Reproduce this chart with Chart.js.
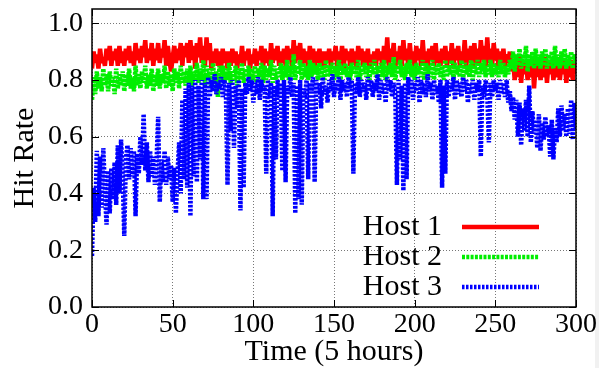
<!DOCTYPE html>
<html>
<head>
<meta charset="utf-8">
<script src="https://cdn.jsdelivr.net/npm/chart.js@4/dist/chart.umd.min.js"></script>
<style>
  html, body { margin: 0; padding: 0; background: #fff; }
  canvas { display: block; }
</style>
</head>
<body>
<canvas id="chart" width="599" height="368"></canvas>
<script>
// Hit rate per host, one sample per 5-hour interval (index 0..300)
const host1 = [
  0.84,0.90,0.86,0.89,0.84,0.91,0.86,0.88,0.85,0.91,0.87,0.92,0.85,0.90,0.87,0.91,0.85,0.92,0.86,0.90,
  0.85,0.91,0.87,0.92,0.86,0.90,0.85,0.93,0.87,0.91,0.86,0.92,0.88,0.94,0.86,0.91,0.87,0.93,0.85,0.91,
  0.87,0.93,0.86,0.91,0.88,0.94,0.85,0.92,0.87,0.83,0.88,0.92,0.86,0.91,0.87,0.93,0.85,0.92,0.88,0.93,
  0.86,0.94,0.87,0.92,0.84,0.93,0.88,0.95,0.86,0.92,0.85,0.95,0.87,0.93,0.84,0.90,0.86,0.91,0.85,0.90,
  0.84,0.91,0.86,0.90,0.84,0.90,0.85,0.91,0.86,0.90,0.84,0.89,0.86,0.92,0.85,0.90,0.87,0.91,0.84,0.89,
  0.86,0.91,0.85,0.90,0.87,0.92,0.84,0.91,0.86,0.90,0.85,0.93,0.86,0.91,0.87,0.92,0.85,0.90,0.86,0.91,
  0.85,0.92,0.87,0.91,0.84,0.94,0.86,0.92,0.87,0.93,0.85,0.91,0.86,0.90,0.84,0.92,0.87,0.91,0.85,0.90,
  0.86,0.91,0.85,0.90,0.84,0.90,0.86,0.91,0.85,0.90,0.87,0.92,0.85,0.90,0.86,0.92,0.84,0.91,0.87,0.90,
  0.85,0.91,0.86,0.90,0.84,0.92,0.87,0.91,0.85,0.90,0.86,0.91,0.84,0.89,0.86,0.90,0.85,0.91,0.87,0.90,
  0.84,0.92,0.86,0.95,0.85,0.91,0.87,0.93,0.84,0.90,0.86,0.92,0.85,0.94,0.87,0.91,0.85,0.93,0.86,0.90,
  0.84,0.92,0.87,0.91,0.85,0.94,0.86,0.90,0.84,0.91,0.87,0.92,0.85,0.93,0.86,0.90,0.85,0.91,0.87,0.92,
  0.85,0.90,0.86,0.93,0.84,0.91,0.87,0.92,0.85,0.90,0.86,0.94,0.85,0.91,0.87,0.92,0.84,0.93,0.86,0.91,
  0.85,0.94,0.87,0.92,0.85,0.95,0.86,0.91,0.85,0.93,0.87,0.91,0.84,0.90,0.86,0.91,0.85,0.89,0.86,0.90,
  0.83,0.87,0.80,0.86,0.81,0.88,0.79,0.86,0.82,0.87,0.80,0.85,0.81,0.88,0.77,0.86,0.81,0.87,0.80,0.85,
  0.81,0.88,0.79,0.86,0.82,0.87,0.80,0.85,0.81,0.88,0.80,0.86,0.82,0.87,0.79,0.85,0.81,0.87,0.80,0.86,
  0.82
];

const host2 = [
  0.73,0.81,0.75,0.83,0.77,0.81,0.76,0.84,0.78,0.82,0.76,0.83,0.78,0.81,0.75,0.84,0.77,0.82,0.78,0.83,
  0.76,0.82,0.78,0.84,0.77,0.81,0.76,0.85,0.78,0.82,0.77,0.83,0.79,0.85,0.77,0.82,0.78,0.84,0.76,0.82,
  0.78,0.84,0.77,0.82,0.79,0.85,0.77,0.83,0.78,0.82,0.76,0.84,0.79,0.83,0.77,0.85,0.79,0.83,0.78,0.84,
  0.79,0.85,0.78,0.83,0.80,0.86,0.79,0.84,0.80,0.87,0.78,0.85,0.80,0.84,0.77,0.86,0.79,0.83,0.74,0.85,
  0.80,0.85,0.79,0.84,0.80,0.86,0.79,0.83,0.80,0.85,0.78,0.84,0.80,0.86,0.79,0.84,0.81,0.85,0.79,0.84,
  0.80,0.85,0.79,0.84,0.81,0.86,0.79,0.85,0.80,0.84,0.81,0.87,0.79,0.85,0.80,0.84,0.81,0.86,0.80,0.85,
  0.81,0.87,0.80,0.85,0.81,0.89,0.80,0.85,0.82,0.87,0.80,0.86,0.81,0.85,0.80,0.87,0.81,0.86,0.82,0.85,
  0.80,0.86,0.81,0.85,0.80,0.87,0.81,0.85,0.82,0.86,0.80,0.85,0.81,0.87,0.80,0.85,0.82,0.86,0.81,0.85,
  0.80,0.86,0.82,0.85,0.81,0.87,0.80,0.85,0.82,0.86,0.81,0.85,0.80,0.86,0.82,0.87,0.81,0.85,0.80,0.86,
  0.81,0.87,0.80,0.85,0.82,0.86,0.81,0.88,0.80,0.85,0.82,0.87,0.81,0.85,0.80,0.86,0.82,0.87,0.81,0.85,
  0.80,0.86,0.82,0.85,0.81,0.87,0.80,0.86,0.82,0.85,0.81,0.87,0.80,0.85,0.82,0.86,0.81,0.85,0.80,0.87,
  0.81,0.85,0.82,0.87,0.80,0.86,0.82,0.85,0.81,0.87,0.80,0.86,0.82,0.85,0.81,0.87,0.80,0.86,0.82,0.87,
  0.81,0.86,0.82,0.87,0.81,0.85,0.82,0.87,0.81,0.86,0.82,0.85,0.81,0.87,0.82,0.86,0.81,0.85,0.82,0.87,
  0.84,0.90,0.83,0.89,0.85,0.91,0.84,0.89,0.85,0.92,0.83,0.89,0.85,0.90,0.84,0.91,0.85,0.89,0.84,0.90,
  0.85,0.91,0.84,0.89,0.85,0.90,0.84,0.92,0.85,0.89,0.84,0.90,0.85,0.91,0.84,0.89,0.85,0.90,0.84,0.89,
  0.86
];

const host3 = [
  0.18,0.42,0.30,0.55,0.32,0.53,0.35,0.56,0.41,0.29,0.48,0.33,0.49,0.38,0.51,0.36,0.57,0.40,0.59,0.47,
  0.25,0.52,0.57,0.45,0.56,0.46,0.55,0.32,0.54,0.47,0.60,0.50,0.68,0.48,0.58,0.44,0.55,0.46,0.53,0.43,
  0.51,0.67,0.37,0.52,0.44,0.55,0.43,0.53,0.45,0.50,0.37,0.49,0.33,0.47,0.58,0.40,0.73,0.45,0.77,0.42,
  0.79,0.32,0.78,0.46,0.80,0.44,0.78,0.52,0.80,0.38,0.79,0.38,0.81,0.74,0.80,0.76,0.82,0.75,0.79,0.77,
  0.81,0.74,0.80,0.76,0.43,0.79,0.62,0.80,0.56,0.78,0.70,0.80,0.34,0.77,0.42,0.79,0.75,0.81,0.76,0.80,
  0.72,0.79,0.75,0.81,0.73,0.80,0.76,0.78,0.47,0.80,0.74,0.79,0.32,0.78,0.52,0.80,0.74,0.79,0.48,0.80,
  0.44,0.78,0.75,0.81,0.74,0.79,0.33,0.78,0.38,0.80,0.36,0.77,0.74,0.80,0.45,0.79,0.76,0.81,0.44,0.80,
  0.75,0.79,0.70,0.81,0.75,0.78,0.72,0.80,0.76,0.82,0.74,0.79,0.76,0.81,0.73,0.80,0.76,0.79,0.74,0.81,
  0.77,0.80,0.47,0.79,0.75,0.81,0.74,0.80,0.76,0.79,0.73,0.81,0.76,0.80,0.74,0.79,0.76,0.82,0.73,0.80,
  0.75,0.79,0.72,0.81,0.76,0.80,0.74,0.79,0.75,0.43,0.80,0.52,0.78,0.41,0.79,0.45,0.81,0.75,0.80,0.73,
  0.79,0.76,0.81,0.72,0.80,0.75,0.79,0.74,0.82,0.76,0.79,0.73,0.80,0.75,0.78,0.72,0.80,0.42,0.78,0.47,
  0.80,0.74,0.79,0.76,0.81,0.73,0.80,0.75,0.79,0.74,0.81,0.76,0.80,0.72,0.79,0.75,0.80,0.73,0.79,0.76,
  0.80,0.53,0.78,0.74,0.80,0.75,0.58,0.79,0.74,0.80,0.76,0.79,0.73,0.80,0.75,0.79,0.74,0.80,0.72,0.76,
  0.69,0.74,0.66,0.73,0.60,0.72,0.57,0.70,0.62,0.73,0.60,0.78,0.58,0.69,0.61,0.66,0.56,0.68,0.55,0.65,
  0.59,0.67,0.60,0.64,0.53,0.66,0.52,0.63,0.58,0.70,0.60,0.71,0.62,0.68,0.60,0.70,0.61,0.73,0.59,0.72,
  0.62
];

const seriesNames = ['Host 1', 'Host 2', 'Host 3'];
const xTicks = [0, 50, 100, 150, 200, 250, 300];
const yTicks = [0.0, 0.2, 0.4, 0.6, 0.8, 1.0];

const SERIF = "'Liberation Serif', 'DejaVu Serif', serif";

const toPoints = vals => vals.map((v, i) => ({ x: i, y: v }));

// Frame with inward ticks on all four sides, plus the in-plot key
const framePlugin = {
  id: 'framePlugin',
  beforeDraw(chart) {
    const ctx = chart.ctx;
    ctx.save();
    ctx.fillStyle = '#ffffff';
    ctx.fillRect(0, 0, chart.width, chart.height);
    ctx.fillStyle = '#f1f1f1';
    ctx.fillRect(595, 0, 4, chart.height);
    ctx.restore();
  },
  afterDatasetsDraw(chart) {
    const { ctx, chartArea: a, scales: { x, y } } = chart;
    ctx.save();
    ctx.strokeStyle = '#000';
    ctx.lineWidth = 1;
    ctx.setLineDash([]);
    const seg = (x1, y1, x2, y2) => { ctx.beginPath(); ctx.moveTo(x1, y1); ctx.lineTo(x2, y2); ctx.stroke(); };
    const tl = 7;
    xTicks.forEach(v => {
      const px = Math.round(x.getPixelForValue(v)) + 0.5;
      seg(px, a.bottom, px, a.bottom - tl);
      seg(px, a.top, px, a.top + tl);
    });
    yTicks.forEach(v => {
      const py = Math.round(y.getPixelForValue(v)) + 0.5;
      seg(a.left, py, a.left + tl, py);
      seg(a.right, py, a.right - tl, py);
    });
    ctx.lineWidth = 1.5;
    ctx.strokeRect(a.left, a.top, a.right - a.left, a.bottom - a.top);

    // key
    ctx.font = '30px ' + SERIF;
    ctx.fillStyle = '#000';
    ctx.textAlign = 'right';
    ctx.textBaseline = 'middle';
    chart.data.datasets.forEach((ds, i) => {
      const cy = 227 + 30 * i;
      ctx.fillText(ds.label, 442, cy);
      ctx.save();
      ctx.strokeStyle = ds.borderColor;
      ctx.lineWidth = ds.borderWidth;
      ctx.lineCap = 'butt';
      ctx.setLineDash(ds.borderDash || []);
      seg(462, cy, 539, cy);
      ctx.restore();
    });
    ctx.restore();
  }
};

new Chart(document.getElementById('chart'), {
  type: 'line',
  data: {
    datasets: [
      { label: seriesNames[0], data: toPoints(host1), borderColor: '#ff0000', borderWidth: 4.5, borderDash: [], order: 3 },
      { label: seriesNames[1], data: toPoints(host2), borderColor: '#00ee00', borderWidth: 4.5, borderDash: [3, 1.3], order: 2 },
      { label: seriesNames[2], data: toPoints(host3), borderColor: '#0000ff', borderWidth: 4.5, borderDash: [2.5, 1.5], order: 1 }
    ]
  },
  options: {
    responsive: false,
    animation: false,
    devicePixelRatio: 1,
    elements: {
      point: { radius: 0 },
      line: { tension: 0, borderJoinStyle: 'bevel', borderCapStyle: 'butt', fill: false }
    },
    layout: { padding: { top: 9, right: 23, left: 0, bottom: 0 } },
    plugins: { legend: { display: false }, tooltip: { enabled: false } },
    scales: {
      x: {
        type: 'linear',
        min: 0,
        max: 300,
        afterBuildTicks: s => { s.ticks = xTicks.map(v => ({ value: v })); },
        afterFit: s => { s.height = 61; s.paddingLeft = 0; s.paddingRight = 0; },
        ticks: {
          font: { family: SERIF, size: 28 },
          color: '#000',
          padding: 1,
          maxRotation: 0,
          autoSkip: false,
          callback: v => String(v)
        },
        grid: { color: '#777', lineWidth: 1, drawTicks: false },
        border: { display: false, dash: [1, 2] },
        title: {
          display: true,
          text: 'Time (5 hours)',
          color: '#000',
          font: { family: SERIF, size: 30, lineHeight: 1 },
          padding: { top: 0, bottom: 1 }
        }
      },
      y: {
        type: 'linear',
        min: 0,
        max: 1.05,
        afterBuildTicks: s => { s.ticks = yTicks.map(v => ({ value: v })); },
        afterFit: s => { s.width = 92; s.paddingTop = 0; s.paddingBottom = 0; },
        ticks: {
          font: { family: SERIF, size: 28 },
          color: '#000',
          padding: 9,
          callback: v => Number(v).toFixed(1)
        },
        grid: { color: '#777', lineWidth: 1, drawTicks: false },
        border: { display: false, dash: [1, 2] },
        title: {
          display: true,
          text: 'Hit Rate',
          color: '#000',
          font: { family: SERIF, size: 30, lineHeight: 1 },
          padding: { top: 10, bottom: 0 }
        }
      }
    }
  },
  plugins: [framePlugin]
});
</script>
</body>
</html>
